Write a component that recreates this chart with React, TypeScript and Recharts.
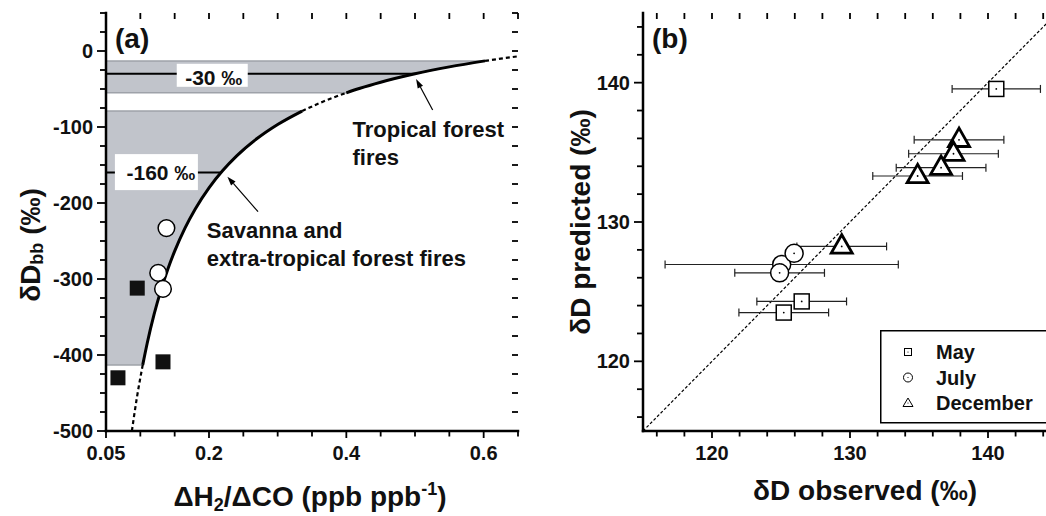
import React from 'react';
import {
  ComposedChart, Area, Line, Scatter, XAxis, YAxis, ReferenceLine, ReferenceDot,
  ErrorBar, Legend, Label,
} from 'recharts';

const FONT = '"Liberation Sans", Arial, Helvetica, sans-serif';
const SHADE = '#c1c4cb';
const SHADE_EDGE = '#9ea2a9';

// ---------- panel (a): dD_bb vs dH2/dCO ----------
const A_X_TICKS = [0.05, 0.1, 0.15, 0.2, 0.25, 0.3, 0.35, 0.4, 0.45, 0.5, 0.55, 0.6, 0.65];
const A_X_LABELS = [0.05, 0.2, 0.4, 0.6];
const A_Y_TICKS = [
  -500, -475, -450, -425, -400, -375, -350, -325, -300, -275, -250, -225,
  -200, -175, -150, -125, -100, -75, -50, -25, 0, 25, 50,
];
const A_Y_LABELS = [-500, -400, -300, -200, -100, 0];

const curveLowDotted = [
  { x: 0.0877, y: -500 }, { x: 0.095, y: -456 }, { x: 0.1035, y: -413 },
];
const curveLowSolid = [
  { x: 0.1035, y: -413 }, { x: 0.11, y: -384.5 }, { x: 0.12, y: -346.7 },
  { x: 0.13, y: -314.6 }, { x: 0.14, y: -287.1 }, { x: 0.15, y: -263.3 },
  { x: 0.165, y: -233 }, { x: 0.18, y: -207.8 }, { x: 0.2, y: -180 },
  { x: 0.22, y: -157.3 }, { x: 0.24, y: -138.3 }, { x: 0.27, y: -115.2 },
  { x: 0.3, y: -96.7 }, { x: 0.3356, y: -79 },
];
const curveMidDashed = [
  { x: 0.3356, y: -79 }, { x: 0.365, y: -67 }, { x: 0.4, y: -55 },
];
const curveHighSolid = [
  { x: 0.4, y: -55 }, { x: 0.42, y: -49 }, { x: 0.45, y: -41.1 },
  { x: 0.5, y: -30 }, { x: 0.55, y: -20.9 }, { x: 0.602, y: -13 },
];
const curveHighDotted = [
  { x: 0.602, y: -13 }, { x: 0.625, y: -10 }, { x: 0.65, y: -7 },
];

// shaded ranges [low, high]
const bandTropical = [
  { x: 0.05, band: [-55, -13] }, { x: 0.4, band: [-55, -13] }, { x: 0.42, band: [-49, -13] },
  { x: 0.45, band: [-41.1, -13] }, { x: 0.5, band: [-30, -13] }, { x: 0.55, band: [-20.9, -13] },
  { x: 0.602, band: [-13, -13] },
];
const bandSavanna = [
  { x: 0.05, band: [-413, -79] }, { x: 0.1035, band: [-413, -79] }, { x: 0.11, band: [-384.5, -79] },
  { x: 0.12, band: [-346.7, -79] }, { x: 0.13, band: [-314.6, -79] }, { x: 0.14, band: [-287.1, -79] },
  { x: 0.15, band: [-263.3, -79] }, { x: 0.165, band: [-233, -79] }, { x: 0.18, band: [-207.8, -79] },
  { x: 0.2, band: [-180, -79] }, { x: 0.22, band: [-157.3, -79] }, { x: 0.24, band: [-138.3, -79] },
  { x: 0.27, band: [-115.2, -79] }, { x: 0.3, band: [-96.7, -79] }, { x: 0.3356, band: [-79, -79] },
];

const openCirclePts = [{ x: 0.138, y: -233 }, { x: 0.126, y: -292 }, { x: 0.133, y: -313 }];
const filledSquarePts = [{ x: 0.0955, y: -312 }, { x: 0.0674, y: -430 }, { x: 0.133, y: -409 }];

const LEVELS = [
  { value: -30, xEnd: 0.5, labelX: 0.204, text: '-30 ‰' },
  { value: -160, xEnd: 0.2174, labelX: 0.1234, text: '-160 ‰' },
];
const ARROWS = [
  { from: { x: 0.5257, y: -77.6 }, to: { x: 0.5016, y: -37 } },
  { from: { x: 0.2714, y: -211.4 }, to: { x: 0.2268, y: -165.4 } },
];
const NOTES = [
  { x: 0.409, y: -113, lines: ['Tropical forest', 'fires'] },
  { x: 0.1968, y: -246, lines: ['Savanna and', 'extra-tropical forest fires'] },
];

// ---------- panel (b): predicted vs observed ----------
const B_TICKS = [116, 118, 120, 122, 124, 126, 128, 130, 132, 134, 136, 138, 140, 142, 144];
const B_LABELS = [120, 130, 140];
const oneToOne = [{ x: 115, y: 115 }, { x: 145, y: 145 }];
const mayPts = [
  { x: 140.6, y: 139.55, err: 3.2 },
  { x: 126.5, y: 124.3, err: 3.25 },
  { x: 125.2, y: 123.5, err: 3.25 },
];
const julyPts = [
  { x: 125.05, y: 126.95, err: 8.45 },
  { x: 124.9, y: 126.35, err: 3.25 },
];
const julyNoBarPts = [{ x: 125.95, y: 127.75 }];
const decPts = [
  { x: 137.9, y: 135.9, err: 3.25 },
  { x: 137.5, y: 134.9, err: 3.25 },
  { x: 136.6, y: 133.9, err: 3.25 },
  { x: 134.9, y: 133.3, err: 3.25 },
  { x: 129.4, y: 128.25, err: 3.25 },
];
const LEGEND_ORDER = ['May', 'July', 'December'];

const AXIS_LINE = { stroke: '#000', strokeWidth: 2.5, strokeLinecap: 'square' as const };
const TICK_LINE = { stroke: '#000', strokeWidth: 1.8 };
const TICK_TXT = { fontFamily: FONT, fontWeight: 700, fontSize: 20, fill: '#111' };

// only the labelled values get a text
const LeftTick = ({ x, y, payload, labels = [] }: any) =>
  labels.includes(payload.value) ? (
    <text x={x} y={y + 7} textAnchor="end" {...TICK_TXT}>{String(payload.value)}</text>
  ) : null;
const BottomTick = ({ x, y, payload, labels = [] }: any) =>
  labels.includes(payload.value) ? (
    <text x={x} y={y + 23} textAnchor="middle" {...TICK_TXT}>{String(payload.value)}</text>
  ) : null;

// tick marks on the frame, drawn from a full-height / full-width reference line:
// outward on bottom and left, inward on top and right
const VTicks = ({ x1, y1, y2, major }: any) => {
  const top = Math.min(y1, y2);
  const bottom = Math.max(y1, y2);
  const len = major ? 7 : 5.5;
  return (
    <g>
      <line x1={x1} y1={bottom} x2={x1} y2={bottom + len} {...TICK_LINE} />
      <line x1={x1} y1={top} x2={x1} y2={top + 6} {...TICK_LINE} />
    </g>
  );
};
const HTicks = ({ y1, x1, x2, major }: any) => {
  const left = Math.min(x1, x2);
  const right = Math.max(x1, x2);
  const len = major ? 9 : 6;
  return (
    <g>
      <line x1={left} y1={y1} x2={left - len} y2={y1} {...TICK_LINE} />
      <line x1={right} y1={y1} x2={right - 6} y2={y1} {...TICK_LINE} />
    </g>
  );
};

const TITLE = { fontFamily: FONT, fontWeight: 700, fontSize: 28, fill: '#111' };

const YTitleA = ({ viewBox }: any) => {
  const cx = viewBox.x + 30;
  const cy = 245;
  return (
    <text x={cx} y={cy} transform={`rotate(-90 ${cx} ${cy})`} textAnchor="middle" dominantBaseline="central" {...TITLE}>
      δD<tspan fontSize={18} dy={7}>bb</tspan><tspan dy={-7}> (‰)</tspan>
    </text>
  );
};
const XTitleA = ({ viewBox }: any) => (
  <text x={viewBox.x + viewBox.width / 2 - 2} y={viewBox.y + 75} textAnchor="middle" {...TITLE}>
    ΔH<tspan fontSize={18} dy={5}>2</tspan><tspan dy={-5}>/ΔCO (ppb ppb</tspan>
    <tspan fontSize={18} dy={-11}>-1</tspan><tspan dy={11}>)</tspan>
  </text>
);
const YTitleB = ({ viewBox }: any) => {
  const cx = viewBox.x + 50;
  const cy = viewBox.y + viewBox.height / 2;
  return (
    <text x={cx} y={cy} transform={`rotate(-90 ${cx} ${cy})`} textAnchor="middle" dominantBaseline="central" {...TITLE}>
      δD predicted (‰)
    </text>
  );
};
const XTitleB = ({ viewBox }: any) => (
  <text x={viewBox.x + viewBox.width / 2 + 15} y={viewBox.y + 69} textAnchor="middle" {...TITLE}>
    δD observed (‰)
  </text>
);

const LevelBox = ({ cx, cy, text, wide }: any) => (
  <g>
    {wide ? (
      <rect x={cx - 41.5} y={cy - 18.5} width={83} height={36} fill="#fff" />
    ) : (
      <rect x={cx - 35} y={cy - 10} width={71} height={23} fill="#fff" />
    )}
    <text x={cx + (wide ? 4.5 : 2)} y={cy + (wide ? 7.5 : 11.5)} textAnchor="middle"
      fontFamily={FONT} fontWeight={700} fontSize={21} fill="#111">{text}</text>
  </g>
);

const Note = ({ cx, cy, lines }: any) => (
  <text x={cx} y={cy} fontFamily={FONT} fontWeight={700} fontSize={22} fill="#111">
    {lines.map((l: string, i: number) => (
      <tspan key={i} x={cx} dy={i ? 28 : 0}>{l}</tspan>
    ))}
  </text>
);

const Arrow = ({ x1, y1, x2, y2 }: any) => {
  const a = Math.atan2(y2 - y1, x2 - x1);
  const L = 9;
  const W = 3;
  const bx = x2 - L * Math.cos(a);
  const by = y2 - L * Math.sin(a);
  const px = -Math.sin(a) * W;
  const py = Math.cos(a) * W;
  return (
    <g>
      <line x1={x1} y1={y1} x2={bx} y2={by} stroke="#000" strokeWidth={1.2} />
      <polygon points={`${x2},${y2} ${bx + px},${by + py} ${bx - px},${by - py}`} fill="#000" />
    </g>
  );
};

const OpenCircleA = ({ cx, cy }: any) => (
  <circle cx={cx} cy={cy} r={8.3} fill="#fff" stroke="#000" strokeWidth={1.5} />
);
const FilledSquareA = ({ cx, cy }: any) => (
  <rect x={cx - 7.5} y={cy - 7.5} width={15} height={15} fill="#111" />
);

const Dot = ({ cx, cy }: any) => <circle cx={cx} cy={cy} r={0.9} fill="#000" />;
const SquareB = ({ cx, cy }: any) => (
  <g>
    <rect x={cx - 7.5} y={cy - 7.5} width={15} height={15} fill="#fff" stroke="#000" strokeWidth={1.5} />
    <Dot cx={cx} cy={cy} />
  </g>
);
const CircleB = ({ cx, cy }: any) => (
  <g>
    <circle cx={cx} cy={cy} r={9} fill="#fff" stroke="#000" strokeWidth={1.5} />
    <Dot cx={cx} cy={cy} />
  </g>
);
const TriangleB = ({ cx, cy }: any) => (
  <g>
    <polygon points={`${cx},${cy - 11.7} ${cx - 10.5},${cy + 6.7} ${cx + 10.5},${cy + 6.7}`}
      fill="#fff" stroke="#000" strokeWidth={2.8} />
    <Dot cx={cx} cy={cy} />
  </g>
);

const LegendIcon = ({ type, cx, cy }: any) => {
  const s = { fill: '#fff', stroke: '#000', strokeWidth: 1 };
  let shape;
  if (type === 'square') shape = <rect x={cx - 3.5} y={cy - 3.5} width={7} height={7} {...s} />;
  else if (type === 'circle') shape = <circle cx={cx} cy={cy} r={4.5} {...s} />;
  else shape = <polygon points={`${cx},${cy - 5} ${cx - 5},${cy + 3.5} ${cx + 5},${cy + 3.5}`} {...s} />;
  return <g>{shape}<circle cx={cx} cy={cy} r={0.6} fill="#000" /></g>;
};

const LegendBox = ({ payload = [] }: any) => {
  const items = payload
    .filter((e: any) => e.type !== 'none' && LEGEND_ORDER.includes(e.value))
    .sort((a: any, b: any) => LEGEND_ORDER.indexOf(a.value) - LEGEND_ORDER.indexOf(b.value));
  return (
    <svg width={180} height={94} style={{ display: 'block' }}>
      <rect x={0.75} y={0.75} width={178.5} height={92} fill="#fff" stroke="#000" strokeWidth={1.5} />
      {items.map((e: any, i: number) => {
        const cy = 22 + i * 25.5;
        return (
          <g key={e.value}>
            <LegendIcon type={e.type} cx={28} cy={cy} />
            <text x={56} y={cy + 7} fontFamily={FONT} fontWeight={700} fontSize={20} fill="#111">{e.value}</text>
          </g>
        );
      })}
    </svg>
  );
};

const frameTicks = (xTicks: number[], xMajors: number[], yTicks: number[], yMajors: number[]) => [
  ...xTicks.map((v) => (
    <ReferenceLine key={`vx${v}`} x={v} ifOverflow="visible"
      shape={(p: any) => <VTicks {...p} major={xMajors.includes(v)} />} />
  )),
  ...yTicks.map((v) => (
    <ReferenceLine key={`hy${v}`} y={v} ifOverflow="visible"
      shape={(p: any) => <HTicks {...p} major={yMajors.includes(v)} />} />
  )),
];

const PanelA = () => (
  <ComposedChart width={530} height={516} margin={{ top: 13, right: 12, bottom: 0, left: 0 }}>
    <XAxis type="number" dataKey="x" domain={[0.05, 0.65]} ticks={A_X_TICKS} interval={0}
      allowDataOverflow height={85} axisLine={AXIS_LINE} tickLine={false} tickSize={6} tickMargin={0}
      tick={<BottomTick labels={A_X_LABELS} />}>
      <Label content={<XTitleA />} />
    </XAxis>
    <XAxis xAxisId="top" orientation="top" type="number" domain={[0.05, 0.65]}
      allowDataOverflow height={0} axisLine={AXIS_LINE} tickLine={false} tick={false} />
    <YAxis type="number" dataKey="y" domain={[-500, 50]} ticks={A_Y_TICKS} interval={0}
      allowDataOverflow width={106} axisLine={AXIS_LINE} tickLine={false} tickSize={7} tickMargin={6}
      tick={<LeftTick labels={A_Y_LABELS} />}>
      <Label content={<YTitleA />} />
    </YAxis>
    <YAxis yAxisId="right" orientation="right" type="number" domain={[-500, 50]}
      allowDataOverflow width={0} axisLine={AXIS_LINE} tickLine={false} tick={false} />

    <Area data={bandTropical} dataKey="band" type="linear" fill={SHADE} fillOpacity={1}
      stroke={SHADE_EDGE} strokeWidth={1.5} isAnimationActive={false} dot={false} activeDot={false} />
    <Area data={bandSavanna} dataKey="band" type="linear" fill={SHADE} fillOpacity={1}
      stroke={SHADE_EDGE} strokeWidth={1.5} isAnimationActive={false} dot={false} activeDot={false} />

    {frameTicks(A_X_TICKS, A_X_LABELS, A_Y_TICKS, A_Y_LABELS)}

    {LEVELS.map((l) => (
      <ReferenceLine key={l.value} segment={[{ x: 0.05, y: l.value }, { x: l.xEnd, y: l.value }]}
        stroke="#000" strokeWidth={2} />
    ))}

    <Line data={curveLowDotted} dataKey="y" type="monotone" stroke="#000" strokeWidth={2.2}
      strokeDasharray="4 3" dot={false} activeDot={false} isAnimationActive={false} />
    <Line data={curveLowSolid} dataKey="y" type="monotone" stroke="#000" strokeWidth={3}
      dot={false} activeDot={false} isAnimationActive={false} />
    <Line data={curveMidDashed} dataKey="y" type="monotone" stroke="#000" strokeWidth={2.2}
      strokeDasharray="4 3" dot={false} activeDot={false} isAnimationActive={false} />
    <Line data={curveHighSolid} dataKey="y" type="monotone" stroke="#000" strokeWidth={3}
      dot={false} activeDot={false} isAnimationActive={false} />
    <Line data={curveHighDotted} dataKey="y" type="monotone" stroke="#000" strokeWidth={2.2}
      strokeDasharray="4 3" dot={false} activeDot={false} isAnimationActive={false} />

    {LEVELS.map((l) => (
      <ReferenceDot key={`lb${l.value}`} x={l.labelX} y={l.value} r={0}
        shape={(p: any) => <LevelBox cx={p.cx} cy={p.cy} text={l.text} wide={l.value === -160} />} />
    ))}
    {ARROWS.map((a, i) => (
      <ReferenceLine key={`ar${i}`} segment={[a.from, a.to]} shape={(p: any) => <Arrow {...p} />} />
    ))}
    {NOTES.map((n, i) => (
      <ReferenceDot key={`nt${i}`} x={n.x} y={n.y} r={0}
        shape={(p: any) => <Note cx={p.cx} cy={p.cy} lines={n.lines} />} />
    ))}

    <Scatter data={filledSquarePts} dataKey="y" shape={<FilledSquareA />} isAnimationActive={false} />
    <Scatter data={openCirclePts} dataKey="y" shape={<OpenCircleA />} isAnimationActive={false} />

    <ReferenceDot x={0.05} y={50} r={0} shape={(p: any) => (
      <text x={p.cx + 9} y={p.cy + 35} fontFamily={FONT} fontWeight={700} fontSize={28} fill="#111">(a)</text>
    )} />
  </ComposedChart>
);

const PanelB = () => (
  <ComposedChart width={537} height={516} margin={{ top: 13, right: 10, bottom: 0, left: 0 }}>
    <XAxis type="number" dataKey="x" domain={[115, 145]} ticks={B_TICKS} interval={0}
      allowDataOverflow height={85} axisLine={AXIS_LINE} tickLine={false} tickSize={6} tickMargin={0}
      tick={<BottomTick labels={B_LABELS} />}>
      <Label content={<XTitleB />} />
    </XAxis>
    <XAxis xAxisId="top" orientation="top" type="number" domain={[115, 145]}
      allowDataOverflow height={0} axisLine={AXIS_LINE} tickLine={false} tick={false} />
    <YAxis type="number" dataKey="y" domain={[115, 145]} ticks={B_TICKS} interval={0}
      allowDataOverflow width={113} axisLine={AXIS_LINE} tickLine={false} tickSize={7} tickMargin={6}
      tick={<LeftTick labels={B_LABELS} />}>
      <Label content={<YTitleB />} />
    </YAxis>

    {frameTicks(B_TICKS, B_LABELS, B_TICKS, B_LABELS)}

    <Line data={oneToOne} dataKey="y" type="linear" stroke="#000" strokeWidth={1.2}
      strokeDasharray="3 2" dot={false} activeDot={false} isAnimationActive={false} legendType="none" />

    <Scatter name="May" data={mayPts} dataKey="y" legendType="square" shape={<SquareB />} isAnimationActive={false}>
      <ErrorBar dataKey="err" direction="x" width={4} stroke="#222" strokeWidth={1.2} isAnimationActive={false} />
    </Scatter>
    <Scatter name="July" data={julyPts} dataKey="y" legendType="circle" shape={<CircleB />} isAnimationActive={false}>
      <ErrorBar dataKey="err" direction="x" width={4} stroke="#222" strokeWidth={1.2} isAnimationActive={false} />
    </Scatter>
    <Scatter name="July (no bar)" data={julyNoBarPts} dataKey="y" legendType="none" shape={<CircleB />} isAnimationActive={false} />
    <Scatter name="December" data={decPts} dataKey="y" legendType="triangle" shape={<TriangleB />} isAnimationActive={false}>
      <ErrorBar dataKey="err" direction="x" width={4} stroke="#222" strokeWidth={1.2} isAnimationActive={false} />
    </Scatter>

    <Legend layout="vertical" align="center" verticalAlign="middle" content={<LegendBox />}
      wrapperStyle={{ left: 350, top: 330, width: 180, height: 94 }} />

    <ReferenceDot x={115} y={145} r={0} shape={(p: any) => (
      <text x={p.cx + 9} y={p.cy + 35} fontFamily={FONT} fontWeight={700} fontSize={28} fill="#111">(b)</text>
    )} />
  </ComposedChart>
);

export default function App() {
  return (
    <div style={{ position: 'absolute', left: 0, top: 0, width: 1046, height: 516, overflow: 'hidden', background: '#fff' }}>
      <div style={{ position: 'absolute', left: 0, top: 0 }}>
        <PanelA />
      </div>
      <div style={{ position: 'absolute', left: 530, top: 0 }}>
        <PanelB />
      </div>
    </div>
  );
}
